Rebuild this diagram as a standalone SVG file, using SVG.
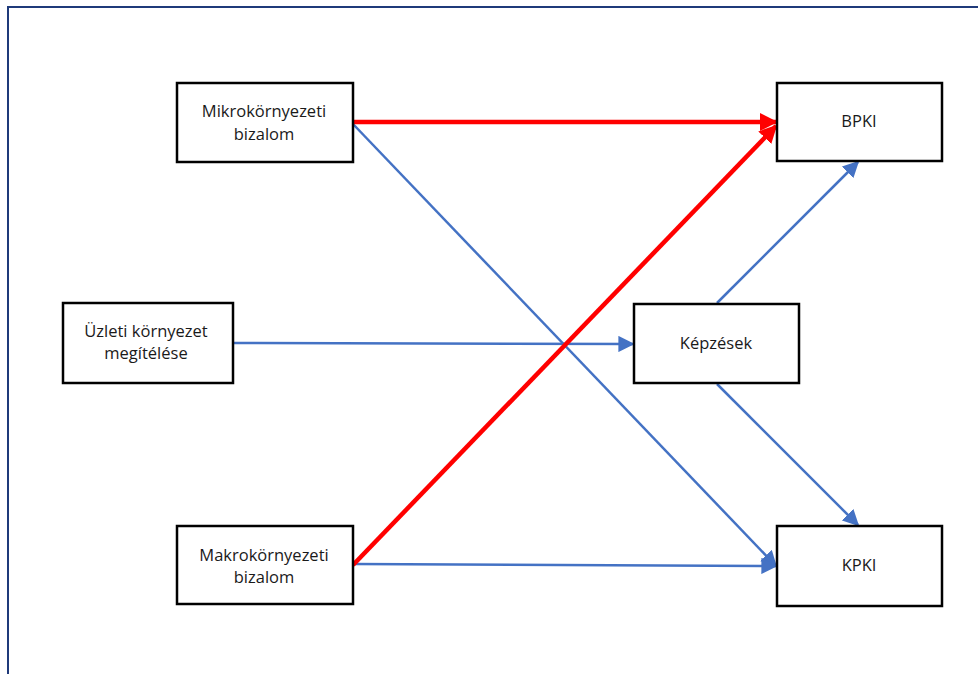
<svg xmlns="http://www.w3.org/2000/svg" width="978" height="674" viewBox="0 0 978 674">
<defs>
<style>
.node rect{fill:#fff;stroke:#000;stroke-width:2.5}
.node text{font-family:"Open Sans","Liberation Sans",sans-serif;font-size:16.5px;fill:#1a1a1a;text-anchor:middle}
.blue{stroke:#4472C4;stroke-width:2.5;fill:none;marker-end:url(#ab)}
.red{stroke:#FF0000;stroke-width:4.5;fill:none;marker-end:url(#ar)}
</style>
<marker id="ab" viewBox="0 0 10 10" refX="9" refY="5" markerWidth="6.5" markerHeight="6.5" markerUnits="strokeWidth" orient="auto"><path d="M0,0 L10,5 L0,10 z" fill="#4472C4"/></marker>
<marker id="ar" viewBox="0 0 10 10" refX="9" refY="5" markerWidth="4" markerHeight="4" markerUnits="strokeWidth" orient="auto"><path d="M0,0 L10,5 L0,10 z" fill="#FF0000"/></marker>
</defs>
<rect x="0" y="0" width="978" height="674" fill="#fff"/>
<rect x="8" y="7" width="1000" height="700" fill="none" stroke="#1F3A7A" stroke-width="2"/>
<g id="connectors">
<line class="blue" x1="353" y1="124" x2="776" y2="566"/>
<line class="blue" x1="233" y1="343" x2="633" y2="344"/>
<line class="blue" x1="353" y1="564" x2="776" y2="566"/>
<line class="blue" x1="717" y1="303" x2="858" y2="162"/>
<line class="blue" x1="717" y1="384" x2="858" y2="525"/>
<line class="red" x1="353" y1="122" x2="776" y2="122"/>
<line class="red" x1="353" y1="565" x2="776" y2="126"/>
</g>
<g id="mikro" class="node"><rect x="177" y="83" width="176" height="79"/><text x="264" y="117">Mikrokörnyezeti</text><text x="264" y="140">bizalom</text></g>
<g id="uzleti" class="node"><rect x="63" y="303" width="170" height="80"/><text x="146" y="337">Üzleti környezet</text><text x="146" y="359">megítélése</text></g>
<g id="makro" class="node"><rect x="177" y="526" width="176" height="78"/><text x="264" y="561">Makrokörnyezeti</text><text x="264" y="583">bizalom</text></g>
<g id="kepzesek" class="node"><rect x="634" y="304" width="165" height="79"/><text x="716" y="349">Képzések</text></g>
<g id="bpki" class="node"><rect x="777" y="83" width="165" height="78"/><text x="859" y="127">BPKI</text></g>
<g id="kpki" class="node"><rect x="777" y="526" width="165" height="80"/><text x="859" y="571">KPKI</text></g>
</svg>
